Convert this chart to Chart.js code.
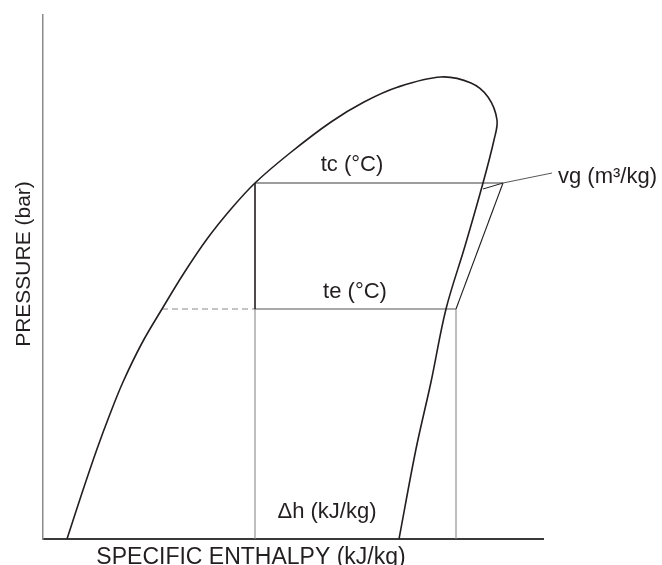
<!DOCTYPE html>
<html>
<head>
<meta charset="utf-8">
<script src="https://cdn.jsdelivr.net/npm/chart.js@4.4.1/dist/chart.umd.min.js"></script>
<style>
  html, body { margin: 0; padding: 0; background: #ffffff; }
  #wrap { width: 662px; height: 565px; position: relative; }
</style>
</head>
<body>
<div id="wrap"><canvas id="c" width="662" height="565"></canvas></div>
<script>
// Schematic pressure–enthalpy diagram (arbitrary units)
// Saturation dome: liquid line up to the critical region, then vapour line down
const domeEnthalpy = [24, 39, 54, 67, 80, 99, 119, 141, 164, 188, 212, 247, 288, 321, 355, 398, 428, 445, 454, 451, 440, 422, 403, 388, 373, 356];
const domePressure = [0, 46, 90, 125, 157, 196, 230, 266, 300, 330, 356, 386, 417, 437, 452, 462, 456, 442, 419, 399, 356, 293, 230, 157, 90, 0];

// Cycle levels
const condensingPressure = 356;   // tc
const evaporatingPressure = 230;  // te
const liquidEnthalpy = 212;       // throttling line
const liquidSatEvap = 119;        // saturated liquid at te (dashed start)
const suctionEnthalpy = 413;      // compressor suction
const dischargeEnthalpy = 460;    // compressor discharge
const vapourSatCond = 440;        // saturated vapour near tc
const vapourSatCondPressure = 350;
const leaderEnd = [509, 366];     // vg leader end

const xMax = 500, yMax = 524;

// Text annotations [text, enthalpy, pressure, align]
const annotations = [
  ['tc (°C)', 309, 368, 'center'],
  ['te (°C)', 312, 241, 'center'],
  ['vg (m³/kg)', 515, 356, 'left'],
  ['Δh (kJ/kg)', 284, 21, 'center']
];
const xTitle = 'SPECIFIC ENTHALPY (kJ/kg)';
const yTitle = 'PRESSURE (bar)';

const pts = (xs, ys) => xs.map((x, i) => ({ x: x, y: ys[i] }));
const seg = (a, b) => [{ x: a[0], y: a[1] }, { x: b[0], y: b[1] }];

const black = '#231f20';
const gray = '#8a8a8a';
const base = { showLine: true, pointRadius: 0, fill: false, tension: 0, clip: false };

const datasets = [
  Object.assign({}, base, { label: 'dome', data: pts(domeEnthalpy, domePressure), borderColor: black, borderWidth: 1.6, tension: 0.35 }),
  Object.assign({}, base, { label: 'tc', data: seg([liquidEnthalpy, condensingPressure], [dischargeEnthalpy, condensingPressure]), borderColor: '#3a3a3a', borderWidth: 1.1 }),
  Object.assign({}, base, { label: 'throttle', data: seg([liquidEnthalpy, condensingPressure], [liquidEnthalpy, evaporatingPressure]), borderColor: black, borderWidth: 1.6 }),
  Object.assign({}, base, { label: 'te', data: seg([liquidEnthalpy, evaporatingPressure], [suctionEnthalpy, evaporatingPressure]), borderColor: '#555555', borderWidth: 1.1 }),
  Object.assign({}, base, { label: 'teDash', data: seg([liquidSatEvap, evaporatingPressure], [liquidEnthalpy, evaporatingPressure]), borderColor: gray, borderWidth: 1.2, borderDash: [6, 4] }),
  Object.assign({}, base, { label: 'hLiquid', data: seg([liquidEnthalpy, evaporatingPressure], [liquidEnthalpy, 0]), borderColor: gray, borderWidth: 1.1 }),
  Object.assign({}, base, { label: 'hSuction', data: seg([suctionEnthalpy, evaporatingPressure], [suctionEnthalpy, 0]), borderColor: gray, borderWidth: 1.1 }),
  Object.assign({}, base, { label: 'compression', data: seg([suctionEnthalpy, evaporatingPressure], [dischargeEnthalpy, condensingPressure]), borderColor: black, borderWidth: 1.1 }),
  Object.assign({}, base, { label: 'vgTick', data: seg([vapourSatCond, vapourSatCondPressure], [dischargeEnthalpy, condensingPressure]), borderColor: black, borderWidth: 1.0 }),
  Object.assign({}, base, { label: 'vgLeader', data: seg([dischargeEnthalpy, condensingPressure], leaderEnd), borderColor: '#444444', borderWidth: 0.9 })
];

const labelPlugin = {
  id: 'labels',
  afterDraw(chart) {
    const ctx = chart.ctx;
    const xs = chart.scales.x, ys = chart.scales.y;
    ctx.save();
    ctx.fillStyle = black;
    ctx.textBaseline = 'alphabetic';
    ctx.font = '22px "Liberation Sans", Arial, sans-serif';
    annotations.forEach(a => {
      ctx.textAlign = a[3];
      ctx.fillText(a[0], xs.getPixelForValue(a[1]), ys.getPixelForValue(a[2]));
    });
    // axis titles
    ctx.font = '23px "Liberation Sans", Arial, sans-serif';
    ctx.textAlign = 'center';
    ctx.fillText(xTitle, xs.getPixelForValue(208), ys.bottom + 25);
    ctx.save();
    ctx.font = '21px "Liberation Sans", Arial, sans-serif';
    ctx.translate(xs.left - 13, ys.getPixelForValue(275));
    ctx.rotate(-Math.PI / 2);
    ctx.fillText(yTitle, 0, 0);
    ctx.restore();
    ctx.restore();
  }
};

new Chart(document.getElementById('c'), {
  type: 'scatter',
  data: { datasets: datasets },
  options: {
    responsive: false,
    animation: false,
    events: [],
    layout: { padding: { left: 43, top: 15, right: 119, bottom: 26 } },
    plugins: { legend: { display: false }, tooltip: { enabled: false } },
    scales: {
      x: {
        type: 'linear', min: 0, max: xMax,
        ticks: { display: false },
        grid: { display: false, drawTicks: false, tickLength: 0 },
        border: { display: true, color: '#3a3a3a', width: 2 }
      },
      y: {
        type: 'linear', min: 0, max: yMax,
        ticks: { display: false },
        grid: { display: false, drawTicks: false, tickLength: 0 },
        border: { display: true, color: '#8a8a8a', width: 1.5 }
      }
    }
  },
  plugins: [labelPlugin]
});
</script>
</body>
</html>
